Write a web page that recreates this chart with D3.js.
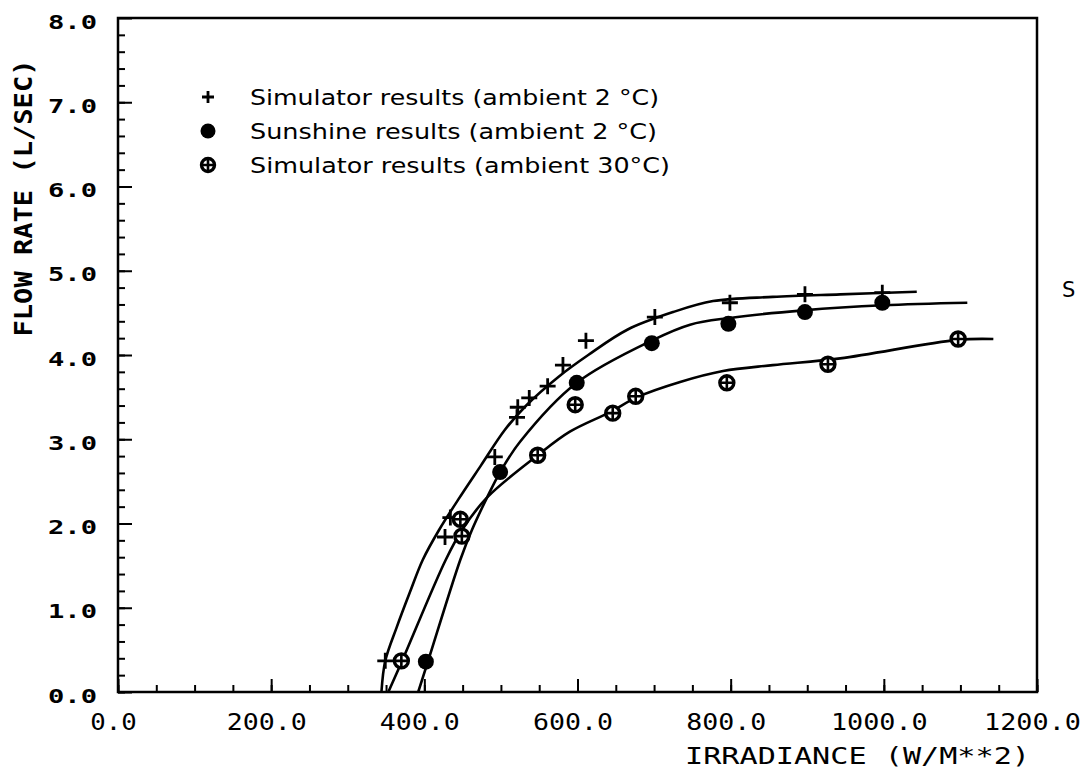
<!DOCTYPE html>
<html>
<head>
<meta charset="utf-8">
<script src="https://cdn.jsdelivr.net/npm/d3@7"></script>
<style>
  body { margin: 0; background: #fff; }
</style>
</head>
<body>
<div id="chart"></div>
<script>
// points: [irradiance W/m2, flow L/s]
const sim2Pts = [[349,0.37],[427,1.84],[434,2.07],[492,2.79],[521,3.26],[522,3.38],[537,3.49],[561,3.63],[581,3.88],[611,4.17],[701,4.45],[799,4.62],[897,4.72],[998,4.74]];
const sun2Pts = [[402,0.36],[499,2.61],[599,3.67],[697,4.14],[797,4.37],[897,4.51],[998,4.62]];
const sim30Pts = [[370,0.37],[447,2.05],[449,1.85],[548,2.81],[597,3.41],[646,3.31],[676,3.51],[795,3.67],[927,3.89],[1097,4.19]];

// hand-drawn fit curves
const sim2Curve = [[344,0],[349,0.37],[364,0.77],[381,1.18],[398,1.57],[419,1.92],[444,2.28],[474,2.69],[505,3.11],[534,3.41],[575,3.74],[614,4.00],[665,4.30],[725,4.51],[777,4.64],[855,4.69],[943,4.72],[1043,4.75]];
const sun2Curve = [[392,0],[405,0.37],[447,1.57],[462,1.92],[482,2.31],[499,2.61],[525,2.97],[599,3.67],[699,4.18],[747,4.36],[799,4.44],[895,4.53],[999,4.59],[1109,4.62]];
const sim30Curve = [[353,0],[371,0.37],[428,1.57],[449,1.92],[482,2.31],[548,2.81],[590,3.09],[642,3.32],[678,3.50],[734,3.68],[790,3.81],[855,3.88],[943,3.96],[1096,4.18],[1143,4.19]];

const legendLabels = ["Simulator results (ambient 2 °C)", "Sunshine results (ambient 2 °C)", "Simulator results (ambient 30°C)"];
const xTicks = [0, 200, 400, 600, 800, 1000, 1200];
const yTicks = [0, 1, 2, 3, 4, 5, 6, 7, 8];

const W = 1085, H = 772;
const mLeft = 118, mRight = 1037, mTop = 18, mBottom = 692;

const svg = d3.select("#chart").append("svg")
  .attr("width", W)
  .attr("height", H);

const x = d3.scaleLinear().domain([0, 1200]).range([mLeft, mRight]);
const y = d3.scaleLinear().domain([0, 8]).range([mBottom, mTop]);

// frame
svg.append("rect")
  .attr("x", mLeft).attr("y", mTop)
  .attr("width", mRight - mLeft).attr("height", mBottom - mTop)
  .attr("fill", "none").attr("stroke", "#000").attr("stroke-width", 2.5);

// minor ticks (inside)
svg.append("g")
  .attr("transform", "translate(0," + mBottom + ")")
  .call(d3.axisBottom(x).tickValues(d3.range(0, 1201, 50)).tickSizeInner(-7).tickSizeOuter(0).tickFormat(""))
  .call(g => g.select(".domain").remove());
svg.append("g")
  .attr("transform", "translate(" + mLeft + ",0)")
  .call(d3.axisLeft(y).tickValues(d3.range(0, 40).map(d => d * 0.2)).tickSizeInner(-7).tickSizeOuter(0).tickFormat(""))
  .call(g => g.select(".domain").remove());

// major ticks + labels
const xAx = svg.append("g")
  .attr("transform", "translate(0," + mBottom + ")")
  .call(d3.axisBottom(x).tickValues(xTicks).tickSizeInner(-13).tickSizeOuter(0).tickFormat(d3.format(".1f")));
xAx.select(".domain").remove();
xAx.selectAll("text")
  .attr("y", 38).attr("dy", 0).attr("dx", -5)
  .attr("font-family", "DejaVu Sans Mono").attr("font-size", 23).attr("fill", "#000")
  .attr("textLength", function () { return this.textContent.length * 16.8 - 4; })
  .attr("lengthAdjust", "spacingAndGlyphs");

const yAx = svg.append("g")
  .attr("transform", "translate(" + mLeft + ",0)")
  .call(d3.axisLeft(y).tickValues(yTicks).tickSizeInner(-14).tickSizeOuter(0).tickPadding(21).tickFormat(d3.format(".1f")));
yAx.select(".domain").remove();
yAx.selectAll("text")
  .attr("dy", 10)
  .attr("font-family", "DejaVu Sans Mono").attr("font-weight", "bold").attr("font-size", 19).attr("fill", "#000")
  .attr("textLength", 49)
  .attr("lengthAdjust", "spacingAndGlyphs");

svg.selectAll(".tick line").attr("stroke", "#000").attr("stroke-width", 2);

// axis titles
svg.append("text")
  .attr("transform", "translate(32,198) rotate(-90)")
  .attr("text-anchor", "middle")
  .attr("font-family", "DejaVu Sans Mono").attr("font-weight", "bold").attr("font-size", 24)
  .attr("textLength", 277).attr("lengthAdjust", "spacingAndGlyphs")
  .text("FLOW RATE (L/SEC)");

svg.append("text")
  .attr("x", 685).attr("y", 764)
  .attr("font-family", "DejaVu Sans Mono").attr("font-size", 23)
  .attr("textLength", 345).attr("lengthAdjust", "spacingAndGlyphs")
  .text("IRRADIANCE (W/M**2)");

svg.append("text")
  .attr("x", 1062).attr("y", 297)
  .attr("font-family", "DejaVu Sans").attr("font-size", 21)
  .text("S");

// curves
const line = d3.line()
  .x(d => x(d[0]))
  .y(d => y(d[1]))
  .curve(d3.curveCatmullRom.alpha(0.5));

[sim2Curve, sun2Curve, sim30Curve].forEach(c => {
  svg.append("path")
    .datum(c)
    .attr("d", line)
    .attr("fill", "none")
    .attr("stroke", "#000")
    .attr("stroke-width", 2.6);
});

// markers
function plus(g, cx, cy, s) {
  g.append("path")
    .attr("d", `M${cx - s},${cy}H${cx + s}M${cx},${cy - s}V${cy + s}`)
    .attr("stroke", "#000").attr("stroke-width", 2.8).attr("fill", "none");
}
function dot(g, cx, cy, r) {
  g.append("circle").attr("cx", cx).attr("cy", cy).attr("r", r).attr("fill", "#000");
}
function oplus(g, cx, cy, r) {
  g.append("circle").attr("cx", cx).attr("cy", cy).attr("r", r)
    .attr("fill", "#fff").attr("stroke", "#000").attr("stroke-width", 3.4);
  g.append("path")
    .attr("d", `M${cx - r},${cy}H${cx + r}M${cx},${cy - r}V${cy + r}`)
    .attr("stroke", "#000").attr("stroke-width", 2.6);
}

const marks = svg.append("g");
sim2Pts.forEach(d => plus(marks, x(d[0]), y(d[1]), 8));
sun2Pts.forEach(d => dot(marks, x(d[0]), y(d[1]), 8));
sim30Pts.forEach(d => oplus(marks, x(d[0]), y(d[1]), 7));

// legend
const legY = [97, 131, 165];
const leg = svg.append("g");
plus(leg, 208, legY[0], 6);
dot(leg, 208, legY[1], 7.5);
oplus(leg, 208, legY[2], 6.5);
const legW = [409, 407, 420];
legendLabels.forEach((t, i) => {
  leg.append("text")
    .attr("x", 250).attr("y", legY[i] + 8)
    .attr("font-family", "DejaVu Sans").attr("font-size", 22)
    .attr("textLength", legW[i]).attr("lengthAdjust", "spacingAndGlyphs")
    .text(t);
});
</script>
</body>
</html>
